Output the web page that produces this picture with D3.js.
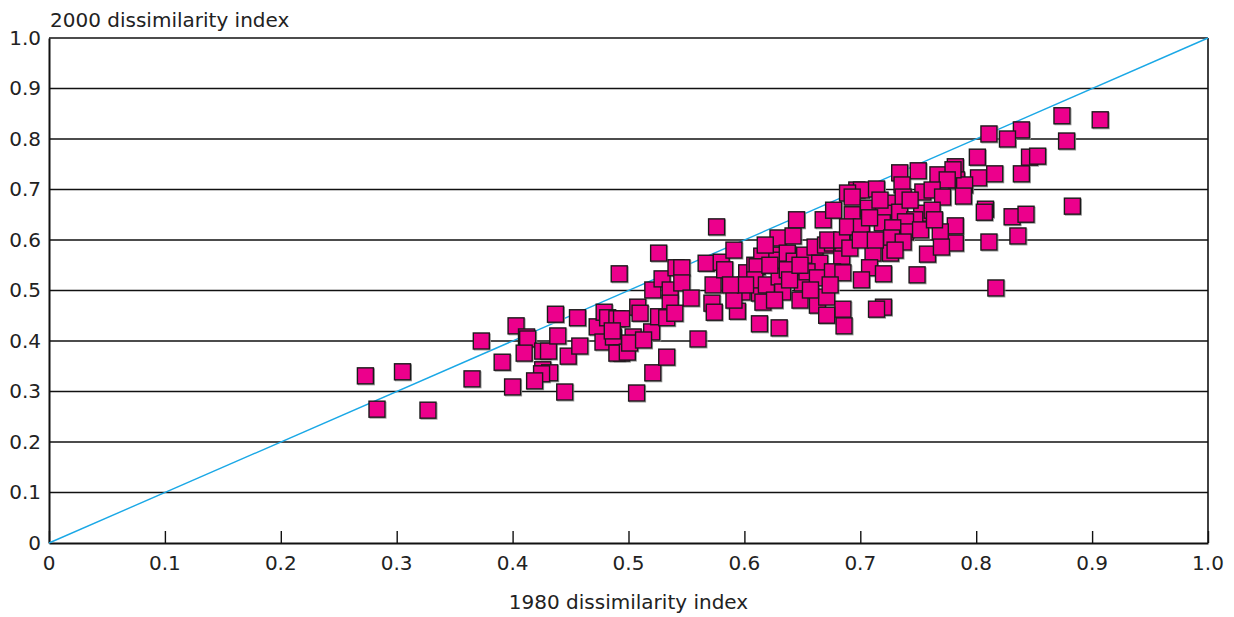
<!DOCTYPE html>
<html><head><meta charset="utf-8">
<script src="https://cdn.jsdelivr.net/npm/d3@7"></script>
<style>body{margin:0;background:#fff}svg{display:block}text{font-family:"DejaVu Sans",sans-serif;fill:#222}</style>
</head><body>
<script>
const xTicks = [0,0.1,0.2,0.3,0.4,0.5,0.6,0.7,0.8,0.9,1.0];
const xTickLabels = ["0","0.1","0.2","0.3","0.4","0.5","0.6","0.7","0.8","0.9","1.0"];
const yTicks = [0,0.1,0.2,0.3,0.4,0.5,0.6,0.7,0.8,0.9,1.0];
const yTickLabels = ["0","0.1","0.2","0.3","0.4","0.5","0.6","0.7","0.8","0.9","1.0"];
const xTitle = "1980 dissimilarity index";
const yTitle = "2000 dissimilarity index";
const diagonal = [[0,0],[1,1]];
const index1980 = [
0.273,0.283,0.305,0.327,0.365,0.373,0.391,0.400,0.403,0.412,0.413,0.410,0.426,0.431,0.426,0.432,0.425,0.419,0.437,0.439,
0.445,0.448,0.456,0.458,0.473,0.478,0.479,0.482,0.490,0.494,0.487,0.492,0.494,0.490,0.499,0.504,0.501,0.508,0.507,0.486,
0.510,0.520,0.521,0.521,0.526,0.513,
0.529,0.541,0.546,0.536,0.536,0.546,0.554,0.526,0.533,0.540,0.533,0.560,0.567,0.573,0.572,0.574,0.576,0.580,0.591,0.594,
0.598,0.591,0.607,0.613,0.602,0.609,0.615,0.613,
0.629,0.642,0.631,0.628,0.637,0.643,0.652,0.661,0.665,0.670,0.676,0.684,0.685,0.611,0.609,0.619,0.630,0.643,0.633,0.648,
0.650,0.654,0.663,0.663,0.671,0.676,0.685,0.616,0.630,0.685,0.686,0.637,0.645,0.668,0.672,0.677,0.697,0.693,0.697,0.684,0.671,
0.874,0.907,0.839,0.811,0.827,0.878,0.801,0.846,0.853,0.802,0.816,0.839,0.782,0.783,0.790,0.789,0.808,0.807,0.831,0.843,
0.883,0.782,0.782,0.811,0.836,0.817,0.750,0.734,0.767,0.780,0.775,0.736,0.701,0.714,0.689,0.693,0.724,0.737,0.754,0.762,
0.771,0.707,0.720,0.734,0.753,0.762,0.747,0.739,0.689,0.701,0.719,0.739,0.728,0.769,0.727,0.737,0.691,0.711,0.726,0.758,
0.770,0.708,0.720,0.701,0.749,0.720,0.714,
0.622,0.639,0.657,0.626,0.601,0.618,0.648,0.674,0.700,0.713,0.730,0.717,0.743,0.752,0.764,0.708,0.583,0.588
];
const index2000 = [
0.331,0.265,0.339,0.263,0.325,0.400,0.358,0.309,0.430,0.408,0.404,0.376,0.380,0.380,0.343,0.337,0.335,0.321,0.453,0.410,
0.299,0.370,0.446,0.390,0.428,0.398,0.457,0.446,0.444,0.444,0.408,0.533,0.376,0.376,0.378,0.408,0.396,0.467,0.297,0.420,
0.455,0.418,0.337,0.501,0.574,0.402,
0.523,0.545,0.545,0.501,0.475,0.515,0.485,0.448,0.446,0.455,0.368,0.404,0.554,0.511,0.475,0.457,0.626,0.556,0.580,0.459,
0.497,0.481,0.517,0.495,0.535,0.550,0.568,0.434,
0.604,0.608,0.570,0.560,0.574,0.558,0.570,0.586,0.554,0.590,0.594,0.568,0.594,0.547,0.521,0.511,0.527,0.525,0.497,0.481,
0.515,0.537,0.525,0.471,0.487,0.537,0.535,0.477,0.426,0.463,0.430,0.541,0.640,0.640,0.600,0.659,0.634,0.650,0.699,0.600,0.451,
0.846,0.838,0.818,0.810,0.800,0.796,0.764,0.764,0.766,0.723,0.731,0.731,0.745,0.719,0.709,0.687,0.661,0.655,0.646,0.651,
0.667,0.628,0.594,0.596,0.608,0.505,0.737,0.733,0.729,0.739,0.719,0.709,0.699,0.701,0.693,0.685,0.673,0.685,0.695,0.699,
0.685,0.663,0.653,0.655,0.653,0.659,0.640,0.636,0.626,0.626,0.634,0.616,0.624,0.616,0.604,0.596,0.584,0.574,0.574,0.572,
0.586,0.545,0.533,0.521,0.531,0.467,0.463,
0.550,0.521,0.501,0.481,0.511,0.590,0.550,0.511,0.600,0.600,0.580,0.679,0.679,0.620,0.640,0.644,0.541,0.511
];

const W = 1234, H = 617;
const m = {left:49, right:1208, top:38, bottom:543};
const FS = 20;
const svg = d3.select("body").append("svg").attr("width",W).attr("height",H);
const x = d3.scaleLinear().domain([0,1]).range([m.left,m.right]);
const y = d3.scaleLinear().domain([0,1]).range([m.bottom,m.top]);

// horizontal grid lines
svg.append("g").selectAll("line").data(yTicks.filter(d=>d>0)).join("line")
  .attr("x1",x(0)).attr("x2",x(1)).attr("y1",d=>y(d)).attr("y2",d=>y(d))
  .attr("stroke","#111").attr("stroke-width",1.4);
// right border
svg.append("line").attr("x1",x(1)).attr("x2",x(1)).attr("y1",y(1)).attr("y2",y(0))
  .attr("stroke","#111").attr("stroke-width",1.6);

// y axis
const yAxis = svg.append("g").attr("transform",`translate(${x(0)},0)`)
  .call(d3.axisLeft(y).tickValues(yTicks).tickFormat((d,i)=>yTickLabels[i]).tickSize(0).tickPadding(8));
yAxis.select(".domain").attr("stroke","#111").attr("stroke-width",2);
yAxis.selectAll("text").attr("font-size",FS).attr("fill","#222").attr("font-family","DejaVu Sans");

// x axis (ticks inward)
const xAxis = svg.append("g").attr("transform",`translate(0,${y(0)})`)
  .call(d3.axisTop(x).tickValues(xTicks).tickFormat(()=>"" ).tickSizeInner(12).tickSizeOuter(0));
xAxis.select(".domain").attr("stroke","#111").attr("stroke-width",2);
xAxis.selectAll("line").attr("stroke","#111").attr("stroke-width",1.4);
svg.append("g").selectAll("text").data(xTicks).join("text")
  .attr("x",d=>x(d)).attr("y",y(0)+27).attr("text-anchor","middle")
  .attr("font-size",FS).text((d,i)=>xTickLabels[i]);

// diagonal
svg.append("path").datum(diagonal)
  .attr("d",d3.line().x(d=>x(d[0])).y(d=>y(d[1])))
  .attr("stroke","#1aa8e6").attr("stroke-width",1.4).attr("fill","none");

// points
const pts = index1980.map((v,i)=>({x:v,y:index2000[i]}));
const s = 16;
const g = svg.append("g");
g.selectAll("rect.sh").data(pts).join("rect").attr("class","sh")
  .attr("x",d=>x(d.x)-s/2+1).attr("y",d=>y(d.y)-s/2+1).attr("width",s).attr("height",s)
  .attr("fill","none").attr("stroke","#999").attr("stroke-width",1);
g.selectAll("rect.pt").data(pts).join("rect").attr("class","pt")
  .attr("x",d=>x(d.x)-s/2).attr("y",d=>y(d.y)-s/2).attr("width",s).attr("height",s)
  .attr("fill","#ec008c").attr("stroke","#1a1a1a").attr("stroke-width",1.4);

// titles
svg.append("text").attr("x",50).attr("y",27).attr("font-size",FS).text(yTitle);
svg.append("text").attr("x",(x(0)+x(1))/2).attr("y",609).attr("text-anchor","middle").attr("font-size",FS).text(xTitle);
</script>
</body></html>
